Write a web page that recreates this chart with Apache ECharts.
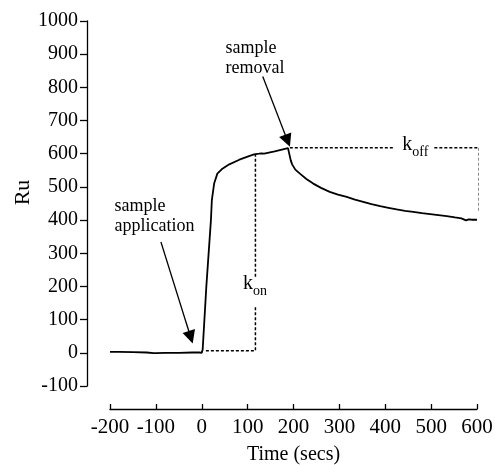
<!DOCTYPE html>
<html><head><meta charset="utf-8">
<script src="https://cdn.jsdelivr.net/npm/echarts@6/dist/echarts.min.js"></script>
<style>html,body{margin:0;padding:0;background:#fff}#c{width:495px;height:465px}</style>
</head><body><div id="c"></div>
<script>
// Sensorgram trace (time in secs, response in Ru)
var timeSecs = [-200,-180,-150,-120,-105,-100,-80,-50,-20,-5,0,2,10,20,22,27,34,45,60,82,103,114,125,130,133,136,159,188,191,194,197,204,214,228,243,260,279,297,316,334,352,370,389,407,425,443,461,480,498,516,534,552,566,570,576,582,590,600];
var ruValues = [3,3,2,1,-1,-1,0,0,1,1,0,10,200,400,460,510,540,555,568,582,593,598,600,601,597,600,607,617,618,580,568,552,540,524,510,497,485,477,470,462,455,448,442,437,432,428,425,421,418,415,412,408,405,401,399,402,401,401];

var xTicks = {min:-200, max:600, step:100};
var yTicks = {min:-100, max:1000, step:100};

// annotation geometry in data units
var konPathA = [[9,6],[117,6],[117,138]];
var konPathB = [[117,229],[117,598]];
var koffPathA = [[192,618],[417,618]];
var koffPathB = [[507,618],[605,618],[605,425]];
var arrowApplication = [[-89,334],[-24,47]];
var arrowRemoval = [[133,833],[187,639]];
var textApplication = [-190,412];
var textRemoval = [52,889];
var textKon = [90,195];
var textKoff = [437,614];

var serif = 'Liberation Serif';
var chart = echarts.init(document.getElementById('c'));
var dashed = {color:'#000', width:1.5, type:[3,2]};
function dashSeries(d){return {type:'line', data:d, showSymbol:false, silent:true, lineStyle:dashed, itemStyle:{color:'#000'}};}
function textSeries(pos, txt, extra){
  var lab = Object.assign({show:true, position:'right', distance:0, formatter:txt, color:'#000', opacity:1, fontFamily:serif, fontSize:18, lineHeight:20}, extra||{});
  return {type:'scatter', symbolSize:0, silent:true, itemStyle:{opacity:1, color:'#000'}, data:[pos], label:lab};
}
var subRich = {k:{fontSize:20, fontFamily:serif, color:'#000', verticalAlign:'bottom', padding:[0,0,4,0]},
               s:{fontSize:14, fontFamily:serif, color:'#000', verticalAlign:'bottom'}};
chart.setOption({
  animation:false,
  grid:{left:110, right:18, top:21, bottom:79, outerBoundsMode:'none', containLabel:false},
  xAxis:{type:'value', min:xTicks.min, max:xTicks.max, interval:xTicks.step, offset:23,
    name:'Time (secs)', nameLocation:'middle', nameGap:36,
    nameTextStyle:{color:'#000', fontFamily:serif, fontSize:20},
    axisLine:{show:true, onZero:false, lineStyle:{color:'#000', width:1.3}},
    axisTick:{show:true, inside:true, length:5, lineStyle:{color:'#000', width:1.3}},
    axisLabel:{color:'#000', fontFamily:serif, fontSize:21, margin:8},
    splitLine:{show:false}},
  yAxis:{type:'value', min:yTicks.min, max:yTicks.max, interval:yTicks.step, offset:23,
    name:'Ru', nameLocation:'middle', nameGap:53, nameRotate:90, nameMoveOverlap:false,
    nameTextStyle:{color:'#000', fontFamily:serif, fontSize:22, padding:[0,0,0,22]},
    axisLine:{show:true, onZero:false, lineStyle:{color:'#000', width:1.3}},
    axisTick:{show:true, length:7, lineStyle:{color:'#000', width:1.3}},
    axisLabel:{color:'#000', fontFamily:serif, fontSize:20, margin:9, formatter:function(v){return String(v);}},
    splitLine:{show:false}},
  series:[
    {type:'line', data:timeSecs.map(function(t,i){return [t, ruValues[i]];}), showSymbol:false, silent:true,
     lineStyle:{color:'#000', width:1.8}, itemStyle:{color:'#000'}},
    dashSeries(konPathA), dashSeries(konPathB), dashSeries(koffPathA), dashSeries(koffPathB),
    {type:'line', data:[], silent:true,
     markLine:{silent:true, symbol:['none','triangle'], symbolSize:13, label:{show:false},
       lineStyle:{color:'#000', width:1.3, type:'solid'}, itemStyle:{color:'#000'},
       data:[
         [{coord:arrowApplication[0]},{coord:arrowApplication[1]}],
         [{coord:arrowRemoval[0]},{coord:arrowRemoval[1]}]
       ]}},
    textSeries(textApplication, 'sample\napplication'),
    textSeries(textRemoval, 'sample\nremoval'),
    textSeries(textKon, '{k|k}{s|on}', {rich:subRich}),
    textSeries(textKoff, '{k|k}{s|off}', {rich:subRich})
  ]
});
</script></body></html>
